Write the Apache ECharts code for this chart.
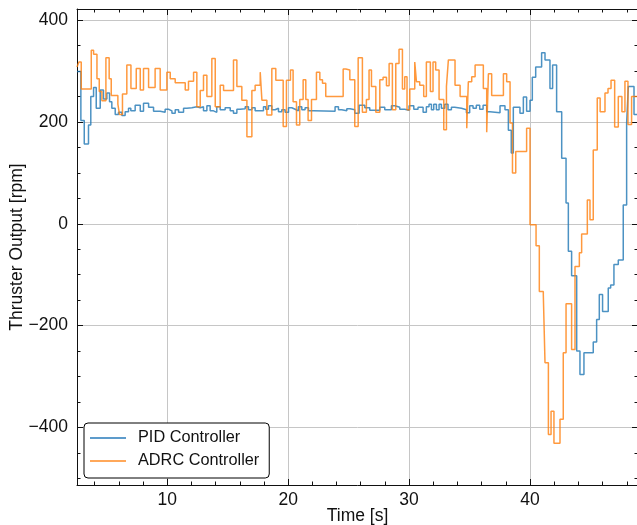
<!DOCTYPE html>
<html>
<head>
<meta charset="utf-8">
<script src="https://cdn.jsdelivr.net/npm/echarts@6/dist/echarts.min.js"></script>
<style>html,body{margin:0;padding:0;background:#fff}#c{width:637px;height:525px}</style>
</head>
<body>
<div id="c"></div>
<script>
// Step change points [time s, rpm] : value holds until the next point
const pidSteps = [[2.54,299],[2.86,203],[3.14,157],[3.49,194],[3.68,250],[3.91,268],[4.13,227],[4.46,263],[4.73,245],[5.01,257],[5.23,240],[5.42,227],[5.7,215],[5.97,219],[6.25,213],[6.52,220],[6.8,227],[6.99,222],[7.35,233],[7.77,221],[8.04,237],[8.46,229],[8.87,221],[9.42,219],[9.83,225],[10.11,222],[10.39,217],[10.66,224],[10.94,219],[11.35,227],[11.63,228],[12.04,230],[12.45,228],[12.73,230],[13.0,222],[13.28,232],[13.55,222],[13.83,219],[14.1,230],[14.38,224],[14.79,228],[15.21,222],[15.48,217],[15.76,225],[16.03,226],[16.45,230],[16.72,224],[17.0,228],[17.27,222],[17.96,230],[18.15,225],[18.37,232],[18.65,224],[18.92,227],[19.2,220],[19.47,224],[19.75,219],[20.03,228],[20.3,225],[20.58,222],[20.85,230],[21.13,224],[21.4,228],[21.68,222],[22.09,221],[23.88,230],[24.16,224],[24.43,222],[24.85,226],[25.12,224],[25.51,217],[25.87,233],[26.34,228],[26.75,223],[27.58,229],[27.99,224],[28.54,232],[28.82,229],[29.23,225],[29.64,223],[30.0,232],[30.39,225],[30.74,229],[31.16,219],[31.43,230],[31.65,235],[31.85,224],[32.04,235],[32.26,224],[32.48,235],[32.67,227],[32.95,235],[33.22,224],[33.5,229],[33.77,227],[34.33,224],[34.74,218],[35.01,232],[35.29,227],[35.56,233],[35.84,225],[36.12,233],[36.42,220],[36.69,218],[37.52,232],[37.93,224],[38.21,184],[38.45,139],[38.62,229],[39.17,217],[39.45,249],[39.72,221],[40.0,243],[40.19,288],[40.47,308],[40.96,336],[41.24,322],[41.65,266],[41.87,312],[42.2,220],[42.62,129],[42.98,41],[43.17,-54],[43.44,-102],[43.86,-250],[44.13,-296],[44.46,-253],[45.23,-232],[45.51,-188],[45.73,-139],[46.0,-172],[46.47,-126],[46.67,-120],[46.94,-80],[47.3,-71],[47.71,37],[47.99,197],[48.13,270],[48.6,215],[48.93,215]];
const adrcSteps = [[2.54,308],[2.7,318],[2.89,265],[3.72,341],[3.91,333],[4.19,285],[4.38,260],[4.6,242],[4.93,326],[5.2,285],[5.37,252],[5.92,235],[6.05,215],[6.3,255],[6.66,312],[7.0,266],[7.44,305],[7.77,263],[8.04,305],[8.46,268],[9.0,305],[9.42,263],[9.97,298],[10.25,285],[10.66,277],[11.49,263],[11.76,280],[12.18,298],[12.45,230],[12.73,262],[13.0,292],[13.28,250],[13.69,325],[13.97,230],[14.38,272],[14.66,262],[15.48,322],[15.76,270],[16.17,243],[16.59,171],[17.0,262],[17.27,272],[17.69,298],[17.83,243],[18.24,214],[18.65,305],[18.98,282],[19.59,191],[19.86,282],[20.19,302],[20.41,240],[20.69,194],[20.96,244],[21.24,283],[21.46,244],[21.65,203],[21.93,244],[22.34,298],[22.62,283],[22.84,276],[23.11,250],[24.55,304],[24.77,302],[25.1,283],[25.51,191],[25.79,326],[26.14,219],[26.47,244],[26.69,302],[26.89,270],[27.25,219],[27.58,283],[27.85,288],[28.13,271],[28.35,315],[28.62,224],[28.9,315],[29.17,343],[29.45,265],[29.64,289],[29.83,224],[30.06,265],[30.47,318],[30.61,279],[30.88,272],[31.21,250],[31.43,318],[31.76,260],[31.98,318],[32.2,302],[32.48,244],[32.87,185],[33.09,270],[33.25,322],[33.8,272],[34.22,250],[34.77,188],[34.9,279],[35.18,289],[35.46,312],[36.14,266],[36.42,180],[36.56,295],[36.83,252],[37.8,295],[38.07,279],[38.35,198],[38.55,100],[38.82,142],[39.72,188],[40.0,-2],[40.5,-43],[40.77,-133],[41.1,-139],[41.24,-273],[41.52,-414],[41.74,-368],[41.98,-431],[42.48,-384],[42.75,-253],[42.98,-157],[43.44,-247],[43.72,-84],[44.08,-57],[44.27,-20],[44.74,47],[44.96,8],[45.23,145],[45.56,247],[45.8,220],[46.2,257],[46.45,266],[46.7,282],[47.0,190],[47.3,250],[47.6,220],[47.85,280],[48.1,195],[48.4,250],[48.93,250]];

const seriesNames = ['PID Controller', 'ADRC Controller'];
const xMajorTicks = [10, 20, 30, 40];
const xMinorTicks = [4, 6, 8, 12, 14, 16, 18, 22, 24, 26, 28, 32, 34, 36, 38, 42, 44, 46, 48];
const yMajorTicks = [-400, -200, 0, 200, 400];
const yMinorTicks = [-500, -450, -350, -300, -250, -150, -100, -50, 50, 100, 150, 250, 300, 350];
const xLimits = [2.54, 48.93];
const yLimits = [-513, 422];

const FONT = "'Liberation Sans', Arial, sans-serif";
const INK = '#111';
const TICK_FS = 17.5;
const gridRect = {left: 77, top: 9, width: 561, height: 476, containLabel: false, outerBoundsMode: 'none'};

function xAx(gridIndex, position, ticks, len, main) {
  return {
    type: 'value', gridIndex, position, min: xLimits[0], max: xLimits[1],
    axisLine: {show: main !== null, onZero: false, lineStyle: {color: INK, width: 1}},
    axisTick: {show: true, inside: true, length: len, customValues: ticks, lineStyle: {color: INK, width: 1}},
    axisLabel: main ? {show: true, customValues: ticks, color: INK, fontSize: TICK_FS, fontFamily: FONT, margin: 6} : {show: false},
    splitLine: {show: !!main, lineStyle: {color: '#c6c6c6', width: 1}},
    name: main ? 'Time [s]' : '', nameLocation: 'middle', nameGap: 22, nameMoveOverlap: false,
    nameTextStyle: {color: INK, fontSize: TICK_FS, fontFamily: FONT}
  };
}
function yAx(gridIndex, position, ticks, len, main) {
  return {
    type: 'value', gridIndex, position, min: yLimits[0], max: yLimits[1],
    axisLine: {show: main !== null, onZero: false, lineStyle: {color: INK, width: 1}},
    axisTick: {show: true, inside: true, length: len, customValues: ticks, lineStyle: {color: INK, width: 1}},
    axisLabel: main ? {show: true, customValues: ticks, color: INK, fontSize: TICK_FS, fontFamily: FONT, margin: 9,
      formatter: v => String(v).replace('-', '\u2212')} : {show: false},
    splitLine: {show: !!main, lineStyle: {color: '#c6c6c6', width: 1}},
    name: main ? 'Thruster Output [rpm]' : '', nameLocation: 'middle', nameGap: 51, nameMoveOverlap: false,
    nameTextStyle: {color: INK, fontSize: TICK_FS, fontFamily: FONT}
  };
}

const chart = echarts.init(document.getElementById('c'), null, {renderer: 'canvas'});
chart.setOption({
  animation: false,
  backgroundColor: '#fff',
  grid: [Object.assign({}, gridRect), Object.assign({}, gridRect)],
  xAxis: [
    xAx(0, 'bottom', xMajorTicks, 6, true),
    xAx(0, 'top', xMajorTicks, 6, false),
    xAx(1, 'bottom', xMinorTicks, 3.5, null),
    xAx(1, 'top', xMinorTicks, 3.5, null)
  ],
  yAxis: [
    yAx(0, 'left', yMajorTicks, 6, true),
    yAx(0, 'right', yMajorTicks, 6, false),
    yAx(1, 'left', yMinorTicks, 3.5, null),
    yAx(1, 'right', yMinorTicks, 3.5, null)
  ],
  legend: {
    data: seriesNames, orient: 'vertical', left: 84, top: 423,
    icon: 'rect', itemWidth: 36, itemHeight: 2, itemGap: 5,
    padding: [6, 10, 8, 6],
    backgroundColor: '#fff', borderColor: '#000', borderWidth: 1, borderRadius: 4,
    textStyle: {color: INK, fontSize: 16.3, fontFamily: FONT, padding: [0, 0, 0, 7], lineHeight: 18}
  },
  series: [
    {name: seriesNames[0], type: 'line', step: 'end', data: pidSteps, xAxisIndex: 0, yAxisIndex: 0,
     symbol: 'none', showSymbol: false, clip: true,
     lineStyle: {color: '#1f77b4', width: 1.5, opacity: 0.8}, itemStyle: {color: '#5d9bcb'}},
    {name: seriesNames[1], type: 'line', step: 'end', data: adrcSteps, xAxisIndex: 0, yAxisIndex: 0,
     symbol: 'none', showSymbol: false, clip: true,
     lineStyle: {color: '#ff7f0e', width: 1.5, opacity: 0.8}, itemStyle: {color: '#ffa85a'}}
  ]
});
</script>
</body>
</html>
